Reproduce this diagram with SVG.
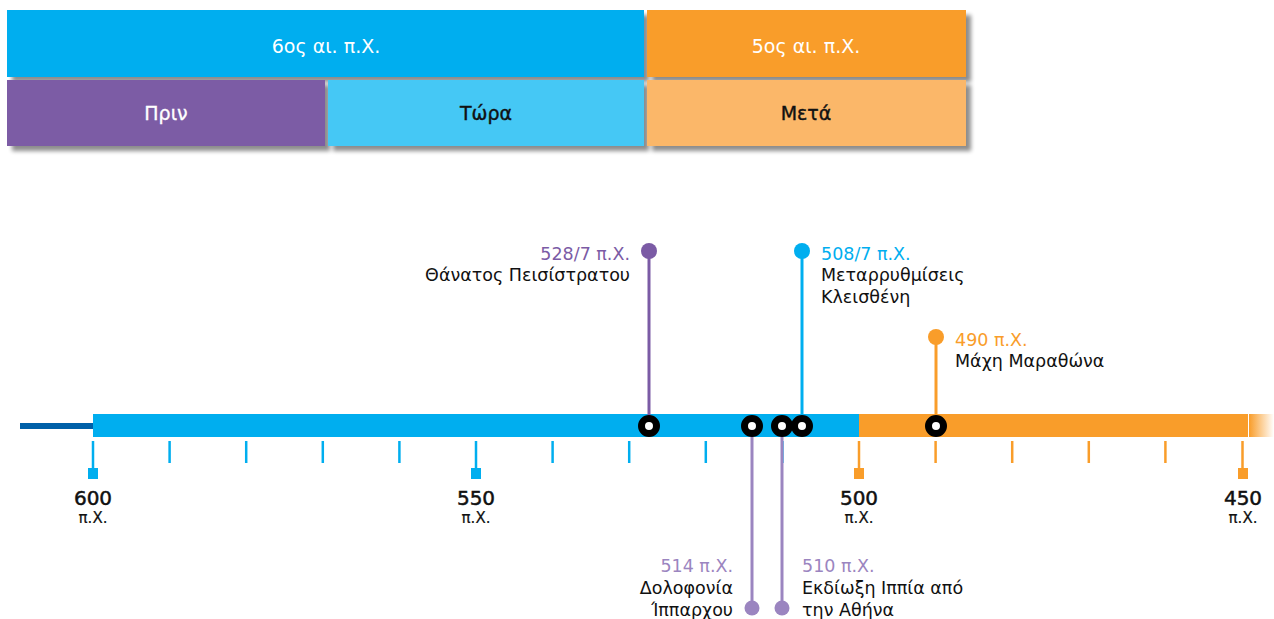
<svg xmlns="http://www.w3.org/2000/svg" width="1274" height="619" viewBox="0 0 1274 619">
<defs>
<filter id="sh" x="-5%" y="-10%" width="115%" height="130%">
<feGaussianBlur in="SourceAlpha" stdDeviation="2"/>
<feOffset dx="5" dy="5"/>
<feComponentTransfer><feFuncA type="linear" slope="0.45"/></feComponentTransfer>
<feMerge><feMergeNode/><feMergeNode in="SourceGraphic"/></feMerge>
</filter>
<linearGradient id="fade" x1="0" x2="1" y1="0" y2="0">
<stop offset="0" stop-color="#F99D2A"/>
<stop offset="1" stop-color="#F99D2A" stop-opacity="0"/>
</linearGradient>
<style>
text{font-family:"DejaVu Sans","Noto Sans",sans-serif}
.hd{font-size:19px;text-anchor:middle}
.w{fill:#fff}
.k{fill:#111}
.sb{stroke:#111;stroke-width:0.4}
.sw{stroke:#fff;stroke-width:0.3}
.ev{font-size:17.5px}
.yr{font-size:20px;text-anchor:middle;fill:#111;stroke:#111;stroke-width:0.5}
.px{font-size:15px;text-anchor:middle;fill:#111;stroke:#111;stroke-width:0.2}
.tkb{stroke:#00AEEF;stroke-width:2.5}
.tko{stroke:#F99D2A;stroke-width:2.5}
.ring{fill:#fff;stroke:#000;stroke-width:7}
</style>
</defs>

<g id="header" filter="url(#sh)">
<rect x="7" y="10" width="637" height="67" fill="#00AEEF"/>
<rect x="647" y="10" width="319" height="67" fill="#F99D2A"/>
<rect x="7" y="80" width="318" height="66" fill="#7B5BA5"/>
<rect x="328" y="80" width="316" height="66" fill="#45C8F5"/>
<rect x="647" y="80" width="319" height="66" fill="#FBB769"/>
</g>
<g id="header-text">
<text class="hd w" x="326" y="53">6ος αι. π.Χ.</text>
<text class="hd w" x="806" y="53">5ος αι. π.Χ.</text>
<text class="hd w sw" x="166" y="120">Πριν</text>
<text class="hd k sb" x="486" y="120">Τώρα</text>
<text class="hd k sb" x="806" y="120">Μετά</text>
</g>

<g id="axis">
<rect x="20" y="423" width="74" height="6" fill="#0060A8"/>
<rect x="93" y="414" width="766" height="23" fill="#00AEEF"/>
<rect x="859" y="414" width="389" height="23" fill="#F99D2A"/>
<rect x="1249" y="414" width="25" height="23" fill="url(#fade)"/>
<g id="ticks">
<line class="tkb" x1="93" y1="441" x2="93" y2="470"/>
<line class="tkb" x1="169.6" y1="441" x2="169.6" y2="463"/>
<line class="tkb" x1="246.2" y1="441" x2="246.2" y2="463"/>
<line class="tkb" x1="322.8" y1="441" x2="322.8" y2="463"/>
<line class="tkb" x1="399.4" y1="441" x2="399.4" y2="463"/>
<line class="tkb" x1="476" y1="441" x2="476" y2="470"/>
<line class="tkb" x1="552.6" y1="441" x2="552.6" y2="463"/>
<line class="tkb" x1="629.2" y1="441" x2="629.2" y2="463"/>
<line class="tkb" x1="705.8" y1="441" x2="705.8" y2="463"/>
<line class="tkb" x1="782.4" y1="441" x2="782.4" y2="463"/>
<line class="tko" x1="859" y1="441" x2="859" y2="470"/>
<line class="tko" x1="935.6" y1="441" x2="935.6" y2="463"/>
<line class="tko" x1="1012.2" y1="441" x2="1012.2" y2="463"/>
<line class="tko" x1="1088.8" y1="441" x2="1088.8" y2="463"/>
<line class="tko" x1="1165.4" y1="441" x2="1165.4" y2="463"/>
<line class="tko" x1="1242.5" y1="441" x2="1242.5" y2="470"/>
<rect x="88" y="468" width="10" height="11" fill="#00AEEF"/>
<rect x="471" y="468" width="10" height="11" fill="#00AEEF"/>
<rect x="854" y="468" width="10" height="11" fill="#F99D2A"/>
<rect x="1238" y="468" width="10" height="11" fill="#F99D2A"/>
</g>
<g id="year-labels">
<text class="yr" x="93" y="505">600</text><text class="px" x="93" y="523">π.Χ.</text>
<text class="yr" x="476" y="505">550</text><text class="px" x="476" y="523">π.Χ.</text>
<text class="yr" x="859" y="505">500</text><text class="px" x="859" y="523">π.Χ.</text>
<text class="yr" x="1243" y="505">450</text><text class="px" x="1243" y="523">π.Χ.</text>
</g>
</g>

<g id="connectors">
<line x1="649" y1="251" x2="649" y2="426" stroke="#7B5BA5" stroke-width="3"/>
<line x1="802" y1="251" x2="802" y2="426" stroke="#00AEEF" stroke-width="3"/>
<line x1="936" y1="337" x2="936" y2="426" stroke="#F99D2A" stroke-width="3"/>
<line x1="752" y1="426" x2="752" y2="608" stroke="#9B85C0" stroke-width="3"/>
<line x1="782" y1="426" x2="782" y2="608" stroke="#9B85C0" stroke-width="3"/>
</g>

<g id="ev-528">
<circle cx="649" cy="251" r="8" fill="#7B5BA5"/>
<circle class="ring" cx="649" cy="426" r="7.5"/>
<text class="ev" x="630" y="260" text-anchor="end" fill="#7B5BA5">528/7 π.Χ.</text>
<text class="ev k" x="630" y="281" text-anchor="end">Θάνατος Πεισίστρατου</text>
</g>
<g id="ev-514">
<circle cx="752" cy="608" r="7.5" fill="#9B85C0"/>
<circle class="ring" cx="752" cy="426" r="7.5"/>
<text class="ev" x="733" y="572" text-anchor="end" fill="#9B85C0">514 π.Χ.</text>
<text class="ev k" x="733" y="594" text-anchor="end">Δολοφονία</text>
<text class="ev k" x="733" y="616" text-anchor="end">Ίππαρχου</text>
</g>
<g id="ev-510">
<circle cx="782" cy="608" r="7.5" fill="#9B85C0"/>
<circle class="ring" cx="782" cy="426" r="7.5"/>
<text class="ev" x="802" y="572" fill="#9B85C0">510 π.Χ.</text>
<text class="ev k" x="802" y="594">Εκδίωξη Ιππία από</text>
<text class="ev k" x="802" y="616">την Αθήνα</text>
</g>
<g id="ev-508">
<circle cx="802" cy="251" r="8" fill="#00AEEF"/>
<circle class="ring" cx="802" cy="426" r="7.5"/>
<text class="ev" x="821" y="260" fill="#00AEEF">508/7 π.Χ.</text>
<text class="ev k" x="821" y="281">Μεταρρυθμίσεις</text>
<text class="ev k" x="821" y="303">Κλεισθένη</text>
</g>
<g id="ev-490">
<circle cx="936" cy="337" r="8" fill="#F99D2A"/>
<circle class="ring" cx="936" cy="426" r="7.5"/>
<text class="ev" x="955" y="346" fill="#F99D2A">490 π.Χ.</text>
<text class="ev k" x="955" y="367">Μάχη Μαραθώνα</text>
</g>
</svg>
